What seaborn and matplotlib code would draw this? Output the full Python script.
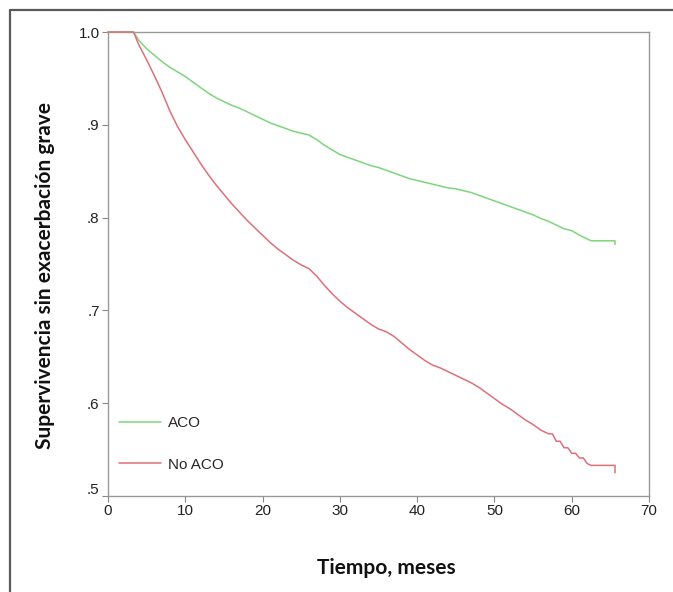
"""
Supervivencia sin exacerbación grave - ACO vs No ACO (Kaplan-Meier)
"""

import numpy as np
import pandas as pd
import matplotlib
matplotlib.use('Agg')
import matplotlib.pyplot as plt
import matplotlib.transforms as mtransforms
from matplotlib.lines import Line2D
import seaborn as sns

# ---- datos ----
aco_t = [0, 3.3, 4, 5, 6, 7, 8, 9, 10, 11, 12, 13, 14, 15, 16, 17, 18, 19, 20,
         21, 22, 23, 24, 25, 26, 27, 28, 29, 30, 31, 32, 33, 34, 35, 36, 37, 38,
         39, 40, 41, 42, 43, 44, 45, 46, 47, 48, 49, 50, 51, 52, 53, 54, 55, 56,
         57, 58, 59, 60, 61, 62, 62.5, 63, 65.6, 65.6]
aco_s = [1.0, 1.0, 0.991, 0.982, 0.975, 0.968, 0.962, 0.957, 0.952, 0.946,
         0.940, 0.934, 0.929, 0.925, 0.921, 0.918, 0.914, 0.910, 0.906, 0.902,
         0.899, 0.896, 0.893, 0.891, 0.889, 0.884, 0.878, 0.873, 0.868, 0.865,
         0.862, 0.859, 0.856, 0.854, 0.851, 0.848, 0.845, 0.842, 0.840, 0.838,
         0.836, 0.834, 0.832, 0.831, 0.829, 0.827, 0.824, 0.821, 0.818, 0.815,
         0.812, 0.809, 0.806, 0.803, 0.799, 0.796, 0.792, 0.788, 0.786, 0.781,
         0.777, 0.775, 0.775, 0.775, 0.771]

noaco_t = [0, 3.3, 4, 5, 6, 7, 8, 9, 10, 11, 12, 13, 14, 15, 16, 17, 18, 19, 20,
           21, 22, 23, 24, 25, 26, 27, 28, 29, 30, 31, 32, 33, 34, 35, 36, 37, 38,
           39, 40, 41, 42, 43, 44, 45, 46, 47, 48, 49, 50, 51, 52, 53, 54, 55, 56,
           57, 57.5, 58, 58.5, 59, 59.5, 60, 60.5, 61, 61.5, 62, 62.5, 65.6, 65.6]
noaco_s = [1.0, 1.0, 0.986, 0.970, 0.953, 0.935, 0.915, 0.898, 0.884, 0.871,
           0.858, 0.846, 0.835, 0.825, 0.815, 0.806, 0.797, 0.789, 0.781, 0.773,
           0.766, 0.760, 0.754, 0.749, 0.745, 0.737, 0.727, 0.718, 0.710, 0.703,
           0.697, 0.691, 0.685, 0.680, 0.677, 0.672, 0.665, 0.658, 0.652, 0.646,
           0.641, 0.638, 0.634, 0.630, 0.626, 0.622, 0.617, 0.611, 0.605, 0.599,
           0.594, 0.588, 0.582, 0.577, 0.571, 0.567, 0.567, 0.559, 0.559, 0.552,
           0.552, 0.546, 0.546, 0.541, 0.541, 0.535, 0.533, 0.533, 0.525]

grupos = ['ACO', 'No ACO']
colores = {'ACO': '#7dd57d', 'No ACO': '#de7079'}
x_ticks = [0, 10, 20, 30, 40, 50, 60, 70]
y_ticks = [0.5, 0.6, 0.7, 0.8, 0.9, 1.0]
y_labels = ['.5', '.6', '.7', '.8', '.9', '1.0']

df = pd.concat([
    pd.DataFrame({'t': aco_t, 's': aco_s, 'grupo': 'ACO'}),
    pd.DataFrame({'t': noaco_t, 's': noaco_s, 'grupo': 'No ACO'}),
], ignore_index=True)

sns.set_style('white')
plt.rcParams['font.family'] = ['Liberation Sans', 'DejaVu Sans']

fig = plt.figure(figsize=(6.73, 5.92), dpi=100)
ax = fig.add_axes([108 / 673, 1 - 496 / 592, 541 / 673, 464 / 592])

sns.lineplot(data=df, x='t', y='s', hue='grupo', hue_order=grupos, palette=colores,
             estimator=None, sort=False, linewidth=1.1, ax=ax, legend=False)
# las curvas se dibujan encima del marco (tramo plano en 1.0)
for ln in ax.lines:
    ln.set_zorder(3)
    ln.set_clip_on(False)

ax.set_xlim(0, 70)
ax.set_ylim(0.5, 1.0)
ax.set_xticks(x_ticks)
ax.set_xticklabels([str(v) for v in x_ticks])
ax.set_yticks(y_ticks)
ax.set_yticklabels(y_labels)
ax.tick_params(axis='both', which='major', direction='out', length=4, width=0.8,
               color='#888888', labelsize=11, labelcolor='#222222', pad=2,
               bottom=True, left=True)

for sp in ax.spines.values():
    sp.set_color('#999999')
    sp.set_linewidth(1.0)

# la etiqueta .5 va un poco más arriba, como en SPSS
lab5 = ax.get_yticklabels()[0]
lab5.set_transform(lab5.get_transform() +
                   mtransforms.ScaledTranslation(0, 8 / 100, fig.dpi_scale_trans))

ax.set_xlabel('Tiempo, meses', fontsize=15, fontweight='bold', family='Lato',
              color='#111111')
ax.set_ylabel('Supervivencia sin exacerbación grave', fontsize=15,
              fontweight='bold', family='Lato', color='#111111')
ax.xaxis.set_label_coords(0.514, -0.134)
ax.yaxis.set_label_coords(-0.098, 0.476)

handles = [Line2D([], [], color=colores[g], linewidth=1.1) for g in grupos]
ax.legend(handles, grupos, loc='upper left', bbox_to_anchor=(0.02, 0.172),
          frameon=False, fontsize=11, handlelength=2.75, handletextpad=0.45,
          labelspacing=1.8, borderpad=0, borderaxespad=0)

# marco exterior (solo izquierda y arriba visibles)
x0, y0 = 10 / 673, 1 - 10 / 592
fig.add_artist(Line2D([x0, x0], [0, y0], transform=fig.transFigure,
                      color='#5a5a5a', linewidth=1.6))
fig.add_artist(Line2D([x0, 1], [y0, y0], transform=fig.transFigure,
                      color='#5a5a5a', linewidth=1.6))

fig.savefig('out.png', dpi=100)
